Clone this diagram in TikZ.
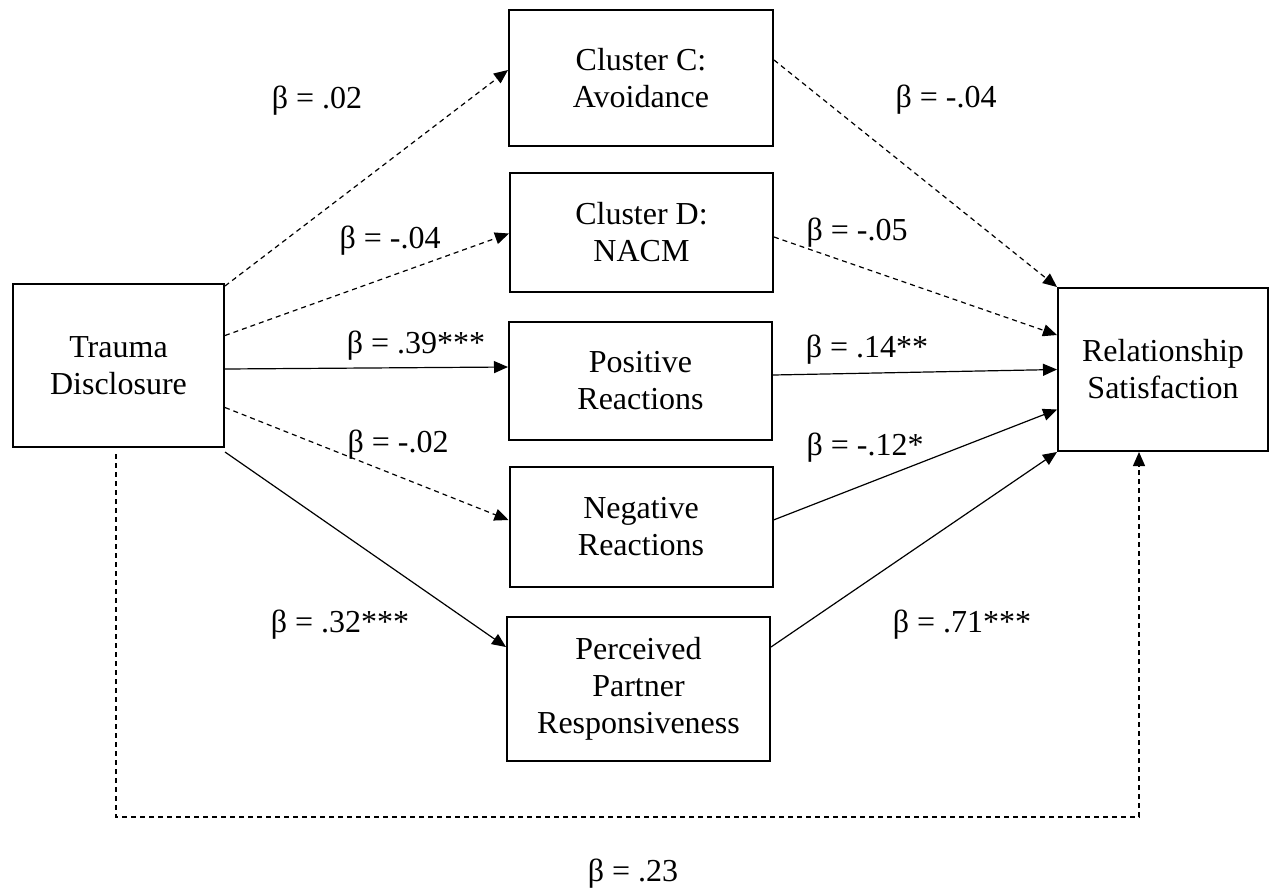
\documentclass[tikz,border=0pt]{standalone}
\usepackage{fontspec}
\setmainfont{Liberation Serif}
\usetikzlibrary{arrows.meta,positioning}

\tikzset{
  var/.style={draw,line width=1pt,align=center,inner sep=0pt},
  sig/.style={line width=0.6pt,-{Triangle[length=7pt,width=6pt]}},
  ns/.style={sig,dash pattern=on 2.5pt off 2pt},
  coef/.style={anchor=base}
}

\begin{document}
\begin{tikzpicture}[x=0.5pt,y=-0.5pt,font=\fontsize{16}{18.5}\selectfont]
\useasboundingbox (0,0) rectangle (1270,890);
% variables
\node[var,minimum width=105.5pt,minimum height=81.5pt] (trauma) at (118.5,365.5) {Trauma\\Disclosure};
\node[var,minimum width=132pt,minimum height=68pt] (clusterC) at (641,78) {Cluster C:\\Avoidance};
\node[var,minimum width=131.5pt,minimum height=59.5pt] (clusterD) at (641.5,232.5) {Cluster D:\\NACM};
\node[var,minimum width=131.5pt,minimum height=59pt] (posreact) at (640.5,381) {Positive\\Reactions};
\node[var,minimum width=131.5pt,minimum height=60pt] (negreact) at (641,527) {Negative\\Reactions};
\node[var,minimum width=131.5pt,minimum height=72pt] (ppr) at (638.5,689) {Perceived\\Partner\\Responsiveness};
\node[var,minimum width=105pt,minimum height=81.5pt] (relsat) at (1163,369.5) {Relationship\\Satisfaction};

% a paths
\draw[ns] ([yshift=-1.5pt]trauma.north east) -- ([yshift=4pt]clusterC.west);
\draw[ns] ([yshift=15pt]trauma.east) -- ([yshift=-0.5pt]clusterD.west);
\draw[sig] ([yshift=-1.75pt]trauma.east) -- ([yshift=7pt]posreact.west);
\draw[ns] ([yshift=-21pt]trauma.east) -- ([yshift=3.5pt]negreact.west);
\draw[sig] ([yshift=-2pt]trauma.south east) -- ([yshift=21pt]ppr.west);

% b paths
\draw[ns] ([yshift=9pt]clusterC.east) -- (relsat.north west);
\draw[ns] ([yshift=-2.25pt]clusterD.east) -- ([yshift=17.25pt]relsat.west);
\draw[sig] ([yshift=3pt]posreact.east) -- (relsat.west);
\draw[sig] ([yshift=3.5pt]negreact.east) -- ([yshift=-20pt]relsat.west);
\draw[sig] ([yshift=21pt]ppr.east) -- (relsat.south west);

% direct path
\coordinate (loopL) at (116,817);
\coordinate (loopR) at (1139,817);
\draw[ns] ([yshift=-3pt]trauma.south -| loopL) -- (loopL) -- (loopR) -- (relsat.south -| loopR);

% coefficients
\node[coef] (b1) at (317,108) {β = .02};
\node[coef] (b2) at (390,248) {β = -.04};
\node[coef] (b3) at (416,353) {β = .39***};
\node[coef] (b4) at (398,452) {β = -.02};
\node[coef] (b5) at (340,632) {β = .32***};
\node[coef] (b6) at (946,107) {β = -.04};
\node[coef] (b7) at (857,240) {β = -.05};
\node[coef] (b8) at (867,357) {β = .14**};
\node[coef] (b9) at (865,455) {β = -.12*};
\node[coef] (b10) at (962,632) {β = .71***};
\node[coef] (b11) at (633,881) {β = .23};
\end{tikzpicture}
\end{document}
